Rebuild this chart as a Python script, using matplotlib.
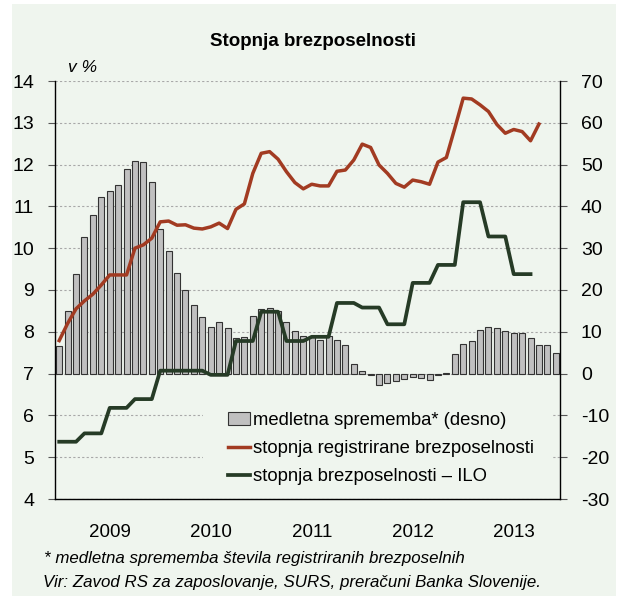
import numpy as np
import matplotlib
matplotlib.use('Agg')
import matplotlib.pyplot as plt
from matplotlib.patches import Rectangle, Patch
from matplotlib.lines import Line2D

plt.rcParams['font.family'] = ['Liberation Sans', 'DejaVu Sans']

BG = '#EFF5EE'

#DATA (monthly, Jan 2009 onwards)
years = ['2009', '2010', '2011', '2012', '2013']

# medletna sprememba stevila registriranih brezposelnih, v % (desna os)
yoy_change = [6.5, 15.0, 23.8, 32.6, 38.0, 42.3, 43.7, 45.1, 49.0, 50.9, 50.6, 45.9,
              34.7, 29.3, 24.1, 19.9, 16.5, 13.5, 11.2, 12.4, 10.8, 8.5, 8.7, 13.8,
              15.5, 15.6, 15.0, 12.3, 10.2, 8.9, 8.7, 8.0, 8.9, 8.0, 6.9, 2.3,
              0.6, -0.4, -2.8, -2.2, -1.7, -1.4, -0.8, -1.1, -1.6, -0.4, 0.2, 4.6,
              7.1, 7.8, 10.5, 11.1, 10.8, 10.2, 9.6, 9.7, 8.6, 6.9, 6.9, 5.0]

# stopnja registrirane brezposelnosti (leva os)
reg_rate = [7.79, 8.20, 8.55, 8.74, 8.90, 9.12, 9.36, 9.36, 9.36, 10.00, 10.08, 10.24,
            10.63, 10.65, 10.55, 10.56, 10.48, 10.46, 10.51, 10.60, 10.47, 10.93, 11.06, 11.79,
            12.27, 12.31, 12.13, 11.83, 11.57, 11.42, 11.53, 11.49, 11.49, 11.84, 11.87, 12.11,
            12.49, 12.41, 11.99, 11.79, 11.55, 11.46, 11.63, 11.59, 11.53, 12.06, 12.17, 12.87,
            13.59, 13.57, 13.43, 13.27, 12.96, 12.75, 12.84, 12.79, 12.57, 12.97]

# stopnja brezposelnosti - ILO, quarterly values shown on the monthly axis
ilo_quarterly = [5.37, 5.57, 6.18, 6.39,
                 7.07, 7.07, 6.97, 7.78,
                 8.48, 7.78, 7.88, 8.69,
                 8.58, 8.18, 9.17, 9.60,
                 11.10, 10.28, 9.38]
ilo_rate = np.repeat(ilo_quarterly, 3)

x = np.arange(len(yoy_change))

fig = plt.figure(figsize=(6.17, 5.96), dpi=100)
fig.patch.set_facecolor('white')
fig.add_artist(Rectangle((12/617, 0), 604/617, 592/596, transform=fig.transFigure,
                         facecolor=BG, edgecolor='none', zorder=0))

ax1 = fig.add_axes([55/617, 1-499/596, 505/617, 418/596])
ax2 = ax1.twinx()
ax1.set_zorder(ax2.get_zorder() + 1)
ax1.patch.set_visible(False)
ax2.patch.set_visible(False)

#BARS (right axis)
ax2.bar(x, yoy_change, width=0.72, color='#C0C0C0', edgecolor='#333333', linewidth=0.8, zorder=2)
ax2.set_ylim(-30, 70)
ax2.set_yticks(np.arange(-30, 71, 10))
ax2.set_yticklabels([str(v) for v in range(-30, 71, 10)])

#LINES (left axis)
ax1.plot(x[:len(reg_rate)], reg_rate, color='#A23B22', lw=2.5, zorder=3)
ax1.plot(x[:len(ilo_rate)], ilo_rate, color='#263B26', lw=2.7, zorder=3)
ax1.set_ylim(4, 14)
ax1.set_yticks(np.arange(4, 15, 1))
ax1.set_xlim(-0.5, len(yoy_change) - 0.5)

#X AXIS: year boundaries (grid) and year labels
ax1.set_xticks([11.5, 23.5, 35.5, 47.5])
ax1.set_xticklabels([])
ax1.set_xticks([6, 18, 30, 42, 54], minor=True)
ax1.set_xticklabels(years, minor=True)
ax1.tick_params(axis='x', which='both', length=0, labelsize=13.5, pad=18)

#GRID on the bar axis so it stays behind the bars
ax2.grid(True, which='major', axis='both', linestyle=(0, (2, 2)), color='#A8A8A8', lw=0.8)
ax1.grid(False)

for a in (ax1, ax2):
    a.spines['top'].set_visible(False)
    for sp in a.spines.values():
        sp.set_linewidth(1.0)
        sp.set_color('black')
ax2.spines['left'].set_visible(False)
ax2.spines['bottom'].set_visible(False)
ax1.spines['right'].set_visible(False)

ax1.tick_params(axis='y', direction='out', length=5, width=0.8, pad=10, labelsize=14, color='#555555')
ax2.tick_params(axis='y', direction='out', length=5, width=0.8, pad=10, labelsize=14, color='#555555')

#LEGEND with its own background patch
ax1.add_patch(Rectangle((0.293, 0.026), 0.691, 0.204, transform=ax1.transAxes,
                        facecolor=BG, edgecolor='none', zorder=1))
handles = [Patch(facecolor='#C0C0C0', edgecolor='#333333', linewidth=0.8),
           Line2D([], [], color='#A23B22', lw=2.5),
           Line2D([], [], color='#263B26', lw=2.7)]
labels = ['medletna sprememba* (desno)',
          'stopnja registrirane brezposelnosti',
          'stopnja brezposelnosti \u2013 ILO']
ax1.legend(handles, labels, loc='upper left', bbox_to_anchor=(0.3426, 0.208),
           frameon=False, fontsize=13.3, borderpad=0, borderaxespad=0,
           handlelength=1.2, handletextpad=0.16, labelspacing=0.6)

#TEXTS
fig.text(313/617, 1-46.5/596, 'Stopnja brezposelnosti', ha='center', va='baseline',
         fontsize=13.5, fontweight='bold')
fig.text(68/617, 1-72/596, 'v %', ha='left', va='baseline', fontsize=12.5, style='italic')
fig.text(44/617, 1-563/596, '* medletna sprememba \u0161tevila registriranih brezposelnih',
         ha='left', va='baseline', fontsize=12.2, style='italic')
fig.text(43/617, 1-587/596, 'Vir: Zavod RS za zaposlovanje, SURS, prera\u010duni Banka Slovenije.',
         ha='left', va='baseline', fontsize=12.2, style='italic')

fig.savefig('out.png', dpi=100, facecolor=fig.get_facecolor())
